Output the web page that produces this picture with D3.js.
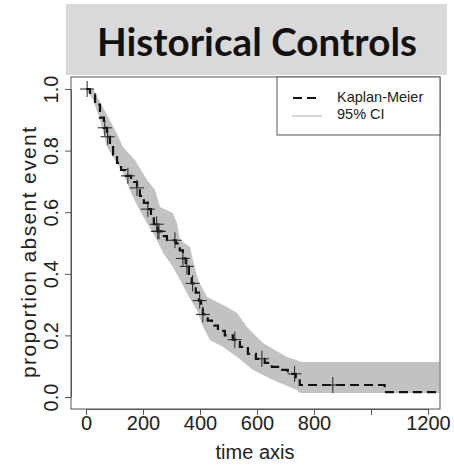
<!DOCTYPE html>
<html lang="en">
<head>
<meta charset="UTF-8">
<script src="https://d3js.org/d3.v7.min.js"></script>
<title>Historical Controls</title>
<style>body { margin: 0; background: #fff; }</style>
</head>
<body>
<script>
// Kaplan-Meier steps: time at which the drop happens, survival after it
const kmTimes = [0, 14, 32, 49, 63, 74, 84, 95, 109, 123, 140, 158, 179, 189, 203, 217, 228, 238, 252, 266,
                 284, 315, 329, 340, 350, 361, 371, 385, 396, 404, 410, 427, 442, 463, 487, 515, 540, 568, 596, 627,
                 652, 680, 708, 736, 750, 1048];
const kmSurv = [1.0, 0.982, 0.949, 0.907, 0.874, 0.845, 0.816, 0.786, 0.760, 0.737, 0.718, 0.698, 0.679, 0.653, 0.630, 0.610, 0.587, 0.561, 0.538, 0.522,
                0.509, 0.499, 0.476, 0.450, 0.424, 0.395, 0.369, 0.339, 0.313, 0.290, 0.268, 0.248, 0.232, 0.215, 0.200, 0.186, 0.163, 0.140, 0.124, 0.111,
                0.098, 0.088, 0.075, 0.064, 0.039, 0.016];
const tMax = 1240;

// censored observations (+ marks)
const censorTimes = [4, 66, 76, 147, 179, 217, 248, 252, 256, 312, 340, 354, 374, 399, 410, 522, 617, 732, 866];

// 95% confidence band edges
const ciUpperTimes = [0, 25, 102, 130, 172, 214, 242, 260, 305, 319, 330, 365, 375, 393, 425, 495, 530, 565, 621, 705, 758, 1240];
const ciUpper = [1.0, 1.0, 0.867, 0.812, 0.769, 0.705, 0.672, 0.617, 0.597, 0.565, 0.510, 0.487, 0.445, 0.380, 0.325, 0.292, 0.273, 0.227, 0.175, 0.130, 0.114, 0.114];
const ciLowerTimes = [0, 25, 49, 74, 95, 130, 154, 182, 214, 249, 270, 305, 330, 354, 389, 411, 435, 481, 530, 586, 656, 740, 751, 1240];
const ciLower = [1.0, 0.964, 0.899, 0.812, 0.779, 0.727, 0.672, 0.617, 0.565, 0.510, 0.468, 0.422, 0.380, 0.338, 0.282, 0.227, 0.185, 0.162, 0.130, 0.088, 0.055, 0.023, 0.013, 0.013];

const xTicks = [0, 200, 400, 600, 800, 1000, 1200];
const xTickLabels = ["0", "200", "400", "600", "800", "", "1200"];
const yTicks = [0, 0.2, 0.4, 0.6, 0.8, 1.0];

const W = 454, H = 467;
const pLeft = 71, pRight = 440, pTop = 77, pBottom = 409;

const svg = d3.select("body").append("svg")
    .attr("width", W)
    .attr("height", H);

// title banner
svg.append("rect")
    .attr("x", 66).attr("y", 4)
    .attr("width", 381).attr("height", 71)
    .attr("fill", "#d9d9d9");
svg.append("text")
    .attr("x", 257).attr("y", 56)
    .attr("text-anchor", "middle")
    .attr("font-family", "Lato, 'Open Sans', sans-serif")
    .attr("font-weight", "bold")
    .attr("font-size", 39)
    .attr("textLength", 320)
    .attr("lengthAdjust", "spacingAndGlyphs")
    .attr("fill", "#111")
    .text("Historical Controls");

const x = d3.scaleLinear().domain([0, 1200]).range([86, 428]);
const y = d3.scaleLinear().domain([0, 1]).range([397, 89]);

svg.append("clipPath").attr("id", "plotclip")
    .append("rect")
    .attr("x", pLeft).attr("y", pTop)
    .attr("width", pRight - pLeft).attr("height", pBottom - pTop);

const plot = svg.append("g").attr("clip-path", "url(#plotclip)");

// confidence band
const upPts = ciUpperTimes.map((t, i) => [x(t), y(ciUpper[i])]);
const loPts = ciLowerTimes.map((t, i) => [x(t), y(ciLower[i])]).reverse();
const line = d3.line();
plot.append("path")
    .attr("d", line(upPts) + "L" + line(loPts).slice(1) + "Z")
    .attr("fill", "#c2c2c2")
    .attr("stroke", "none");

// KM curve
const kmPts = kmTimes.map((t, i) => [t, kmSurv[i]]);
kmPts.push([tMax, kmSurv[kmSurv.length - 1]]);
const kmLine = d3.line()
    .x(d => x(d[0]))
    .y(d => y(d[1]))
    .curve(d3.curveStepAfter);
plot.append("path")
    .attr("d", kmLine(kmPts))
    .attr("fill", "none")
    .attr("stroke", "#111")
    .attr("stroke-width", 2.2)
    .attr("stroke-dasharray", "9,5");

// censor marks sit on the curve
const bis = d3.bisector(d => d).right;
const survAt = t => kmSurv[Math.max(0, bis(kmTimes, t) - 1)];
const marks = plot.selectAll("g.cens")
    .data(censorTimes)
    .enter().append("g")
    .attr("class", "cens")
    .attr("transform", d => `translate(${x(d)},${y(survAt(d))})`);
marks.append("line").attr("x1", -7).attr("x2", 7).attr("y1", 0).attr("y2", 0);
marks.append("line").attr("x1", 0).attr("x2", 0).attr("y1", -8).attr("y2", 8);
marks.selectAll("line").attr("stroke", "#222").attr("stroke-width", 1);

// frame
svg.append("rect")
    .attr("x", pLeft).attr("y", pTop)
    .attr("width", pRight - pLeft).attr("height", pBottom - pTop)
    .attr("fill", "none")
    .attr("stroke", "#555")
    .attr("stroke-width", 1);

// axes
const fontAx = "'Liberation Sans', Arial, sans-serif";
const xAxis = svg.append("g")
    .attr("transform", `translate(0,${pBottom})`)
    .call(d3.axisBottom(x).tickValues(xTicks).tickSize(6).tickSizeOuter(0)
        .tickFormat((d, i) => xTickLabels[i]));
xAxis.selectAll("text")
    .attr("y", 21).attr("dy", 0)
    .attr("font-family", fontAx).attr("font-size", 20).attr("fill", "#222");

const yAxis = svg.append("g")
    .attr("transform", `translate(${pLeft},0)`)
    .call(d3.axisLeft(y).tickValues(yTicks).tickSize(6).tickSizeOuter(0)
        .tickFormat(d3.format(".1f")));
yAxis.selectAll("text")
    .attr("x", 0).attr("y", 0).attr("dy", 0)
    .attr("text-anchor", "middle")
    .attr("transform", "translate(-13,0) rotate(-90)")
    .attr("font-family", fontAx).attr("font-size", 20).attr("fill", "#222");

svg.selectAll(".domain, .tick line").attr("stroke", "#555");

svg.append("text")
    .attr("x", 255).attr("y", 459)
    .attr("text-anchor", "middle")
    .attr("font-family", fontAx).attr("font-size", 20).attr("fill", "#222")
    .text("time axis");

svg.append("text")
    .attr("transform", "translate(35.5,252.5) rotate(-90)")
    .attr("text-anchor", "middle")
    .attr("font-family", fontAx).attr("font-size", 21).attr("fill", "#222")
    .attr("textLength", 251)
    .text("proportion absent event");

// legend
const lg = svg.append("g");
lg.append("rect")
    .attr("x", 277).attr("y", pTop)
    .attr("width", pRight - 277).attr("height", 58)
    .attr("fill", "#fff").attr("stroke", "#555");
lg.append("line")
    .attr("x1", 293).attr("x2", 320).attr("y1", 98).attr("y2", 98)
    .attr("stroke", "#111").attr("stroke-width", 2.2).attr("stroke-dasharray", "9,5");
lg.append("line")
    .attr("x1", 292).attr("x2", 322).attr("y1", 116).attr("y2", 116)
    .attr("stroke", "#c8c8c8").attr("stroke-width", 1.5);
lg.append("text")
    .attr("x", 337).attr("y", 102)
    .attr("font-family", fontAx).attr("font-size", 14.5).attr("fill", "#222")
    .text("Kaplan-Meier");
lg.append("text")
    .attr("x", 337).attr("y", 119)
    .attr("font-family", fontAx).attr("font-size", 14.5).attr("fill", "#222")
    .text("95% CI");
</script>
</body>
</html>
